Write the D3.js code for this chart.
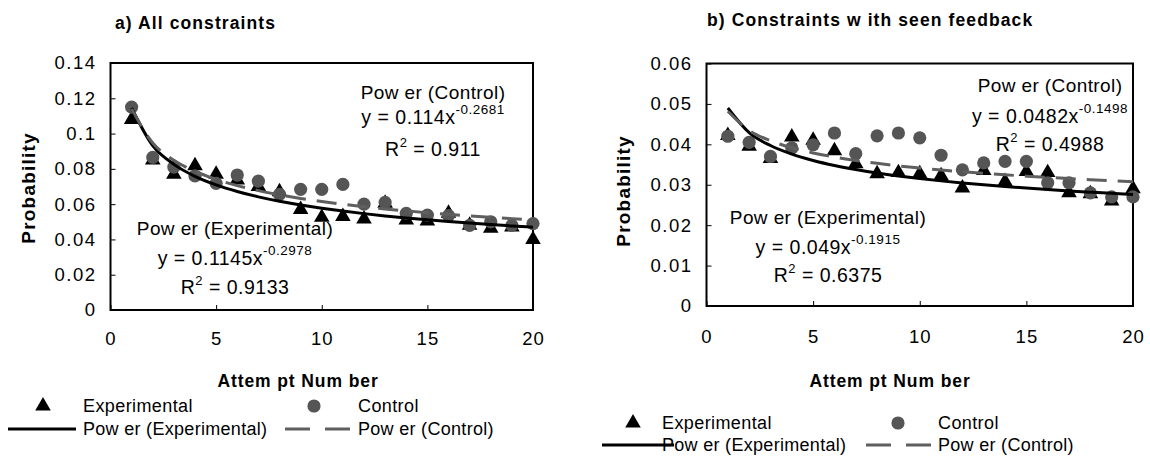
<!DOCTYPE html>
<html><head><meta charset="utf-8">
<script src="https://cdn.jsdelivr.net/npm/d3@7"></script>
<style>
html,body{margin:0;padding:0;background:#fff;}
svg{display:block;font-family:"Liberation Sans",Arial,sans-serif;}
</style></head>
<body>
<svg id="c" width="1150" height="460"></svg>
<script>
// ---- data ----
const attempts = [1,2,3,4,5,6,7,8,9,10,11,12,13,14,15,16,17,18,19,20];
const expA  = [0.108,0.085,0.077,0.0818,0.077,0.0737,0.070,0.067,0.057,0.0525,0.053,0.0516,0.0605,0.051,0.0504,0.0548,0.048,0.0463,0.047,0.040];
const ctrlA = [0.115,0.0865,0.081,0.076,0.0718,0.0765,0.073,0.0655,0.0684,0.0684,0.0712,0.060,0.061,0.0548,0.0538,0.0535,0.048,0.050,0.048,0.049];
const expB  = [0.0422,0.0395,0.0365,0.0418,0.041,0.0384,0.0352,0.0327,0.033,0.0327,0.0322,0.0292,0.0335,0.0308,0.0333,0.033,0.028,0.0278,0.026,0.029];
const ctrlB = [0.042,0.0405,0.037,0.0391,0.0399,0.0428,0.0377,0.0421,0.0428,0.0416,0.0373,0.0337,0.0354,0.0358,0.0358,0.0305,0.0305,0.028,0.027,0.027];
const trendExpA  = {a:0.1145, b:-0.2978, eq:"y = 0.1145x", exp:"-0.2978", r2:"0.9133"};
const trendCtrlA = {a:0.114,  b:-0.2681, eq:"y = 0.114x",  exp:"-0.2681", r2:"0.911"};
const trendExpB  = {a:0.049,  b:-0.1915, eq:"y = 0.049x",  exp:"-0.1915", r2:"0.6375"};
const trendCtrlB = {a:0.0482, b:-0.1498, eq:"y = 0.0482x", exp:"-0.1498", r2:"0.4988"};
const xTicks = [0,5,10,15,20];
const yTicksA = [0,0.02,0.04,0.06,0.08,0.1,0.12,0.14];
const yLabelsA = ["0","0.02","0.04","0.06","0.08","0.1","0.12","0.14"];
const yTicksB = [0,0.01,0.02,0.03,0.04,0.05,0.06];
const yLabelsB = ["0","0.01","0.02","0.03","0.04","0.05","0.06"];
const titles = ["a) All constraints","b) Constraints w ith seen feedback"];
const xTitle = "Attem pt Num ber";
const yTitle = "Probability";
const seriesNames = ["Experimental","Control","Pow er (Experimental)","Pow er (Control)"];
const trendNames = ["Pow er (Experimental)","Pow er (Control)"];

const svg = d3.select("#c");
const CIRC = "#555555", DASH = "#5f5f5f";
const tri = d3.symbol().type(d3.symbolTriangle).size(105);

function panel(o){
  const g = svg.append("g");
  const x = d3.scaleLinear().domain([0,20]).range([o.l,o.r]);
  const y = d3.scaleLinear().domain([0,o.yMax]).range([o.b,o.t]);
  // title
  g.append("text").attr("x",o.titleX).attr("y",o.titleY).attr("dominant-baseline","central")
    .attr("font-size",17.5).attr("font-weight","bold").attr("letter-spacing",1.1).text(o.title);
  // axes
  const ax = d3.axisBottom(x).tickValues(xTicks).tickSize(-5).tickPadding(o.xPad).tickFormat(d3.format("d"));
  const gx = g.append("g").attr("transform",`translate(0,${o.b})`).call(ax);
  gx.select(".domain").remove();
  gx.selectAll("line").attr("stroke","#000");
  gx.selectAll("text").attr("font-size",18.5).attr("letter-spacing",1).attr("font-family","Liberation Sans, Arial, sans-serif").attr("fill","#000");
  const ay = d3.axisLeft(y).tickValues(o.yTicks).tickSize(-5).tickPadding(14).tickFormat((d,i)=>o.yLabels[i]);
  const gy = g.append("g").attr("transform",`translate(${o.l},0)`).call(ay);
  gy.select(".domain").remove();
  gy.selectAll("line").attr("stroke","#000");
  gy.selectAll("text").attr("font-size",18.5).attr("letter-spacing",1.5).attr("font-family","Liberation Sans, Arial, sans-serif").attr("fill","#000");
  g.append("rect").attr("x",o.l).attr("y",o.t).attr("width",o.r-o.l).attr("height",o.b-o.t)
    .attr("fill","none").attr("stroke","#000").attr("stroke-width",2);
  // axis titles
  g.append("text").attr("transform",`translate(${o.yTitleX},${o.yTitleY}) rotate(-90)`).attr("text-anchor","middle")
    .attr("dominant-baseline","central").attr("font-size",19).attr("letter-spacing",1.2).attr("font-weight","bold").text(yTitle);
  g.append("text").attr("x",o.xTitleX).attr("y",o.xTitleY).attr("text-anchor","middle")
    .attr("dominant-baseline","central").attr("font-size",17.5).attr("letter-spacing",0.9).attr("font-weight","bold").text(xTitle);
  // markers
  g.selectAll(".e").data(attempts).join("path").attr("d",tri)
    .attr("transform",(d,i)=>`translate(${x(d)},${y(o.exp[i])})`).attr("fill","#000");
  g.selectAll(".c").data(attempts).join("circle").attr("cx",d=>x(d)).attr("cy",(d,i)=>y(o.ctrl[i]))
    .attr("r",6.6).attr("fill",CIRC);
  // trendlines from displayed equations
  const line = (t)=>d3.line().curve(d3.curveMonotoneX).x(d=>x(d)).y(d=>y(t.a*Math.pow(d,t.b)))(attempts);
  g.append("path").attr("d",line(o.te)).attr("fill","none").attr("stroke","#000").attr("stroke-width",3);
  g.append("path").attr("d",line(o.tc)).attr("fill","none").attr("stroke",DASH).attr("stroke-width",3).attr("stroke-dasharray","20,11");
  // equation labels
  function eqBlock(t,name,cx,ys){
    g.append("text").attr("x",cx).attr("y",ys[0]).attr("text-anchor","middle").attr("dominant-baseline","central")
      .attr("font-size",19).attr("letter-spacing",0.4).text(name);
    const e = g.append("text").attr("x",cx).attr("y",ys[1]).attr("text-anchor","middle").attr("dominant-baseline","central")
      .attr("font-size",19.5).attr("letter-spacing",0.5);
    e.append("tspan").text(t.eq);
    e.append("tspan").attr("font-size",13.5).attr("dy",-8).text(t.exp);
    const r = g.append("text").attr("x",cx).attr("y",ys[2]).attr("text-anchor","middle").attr("dominant-baseline","central")
      .attr("font-size",19.5).attr("letter-spacing",0.5);
    r.append("tspan").text("R");
    r.append("tspan").attr("font-size",13).attr("dy",-7).text("2");
    r.append("tspan").attr("dy",7).text(" = "+t.r2);
  }
  eqBlock(o.tc,trendNames[1],o.ctrlEq[0],o.ctrlEq[1]);
  eqBlock(o.te,trendNames[0],o.expEq[0],o.expEq[1]);
  // legend
  const L = o.leg;
  g.append("path").attr("d",tri).attr("transform",`translate(${L.triX},${L.row1})`).attr("fill","#000");
  g.append("text").attr("x",L.t1X).attr("y",L.row1).attr("dominant-baseline","central").attr("font-size",18).attr("letter-spacing",0.4).text(seriesNames[0]);
  g.append("circle").attr("cx",L.cirX).attr("cy",L.row1).attr("r",6.6).attr("fill",CIRC);
  g.append("text").attr("x",L.t2X).attr("y",L.row1).attr("dominant-baseline","central").attr("font-size",18).attr("letter-spacing",0.4).text(seriesNames[1]);
  g.append("line").attr("x1",L.s0).attr("x2",L.s1).attr("y1",L.row2).attr("y2",L.row2).attr("stroke","#000").attr("stroke-width",3);
  g.append("text").attr("x",L.t1X).attr("y",L.row2).attr("dominant-baseline","central").attr("font-size",18).attr("letter-spacing",0.3).text(seriesNames[2]);
  g.append("line").attr("x1",L.d0).attr("x2",L.d1).attr("y1",L.row2).attr("y2",L.row2).attr("stroke",DASH).attr("stroke-width",3).attr("stroke-dasharray","25,15");
  g.append("text").attr("x",L.t2X).attr("y",L.row2).attr("dominant-baseline","central").attr("font-size",18).attr("letter-spacing",0.3).text(seriesNames[3]);
}

panel({l:110.5,r:533,t:63,b:310,yMax:0.14,yTicks:yTicksA,yLabels:yLabelsA,exp:expA,ctrl:ctrlA,te:trendExpA,tc:trendCtrlA,
  title:titles[0],titleX:115,titleY:23,yTitleX:28,yTitleY:188,xTitleX:298,xTitleY:381,xPad:22,
  ctrlEq:[433,[92,117,149]],expEq:[235,[228,258,287]],
  leg:{triX:43,cirX:314,t1X:83,t2X:358,row1:406,row2:429,s0:8,s1:76,d0:285,d1:353}});
panel({l:706.5,r:1133,t:63.5,b:306,yMax:0.06,yTicks:yTicksB,yLabels:yLabelsB,exp:expB,ctrl:ctrlB,te:trendExpB,tc:trendCtrlB,
  title:titles[1],titleX:707,titleY:20,yTitleX:623,yTitleY:191,xTitleX:890,xTitleY:381,xPad:24,
  ctrlEq:[1050,[85,116,144]],expEq:[828,[217,247,275]],
  leg:{triX:633,cirX:898,t1X:662,t2X:938,row1:423,row2:445,s0:602,s1:674,d0:866,d1:934}});
</script>
</body></html>
